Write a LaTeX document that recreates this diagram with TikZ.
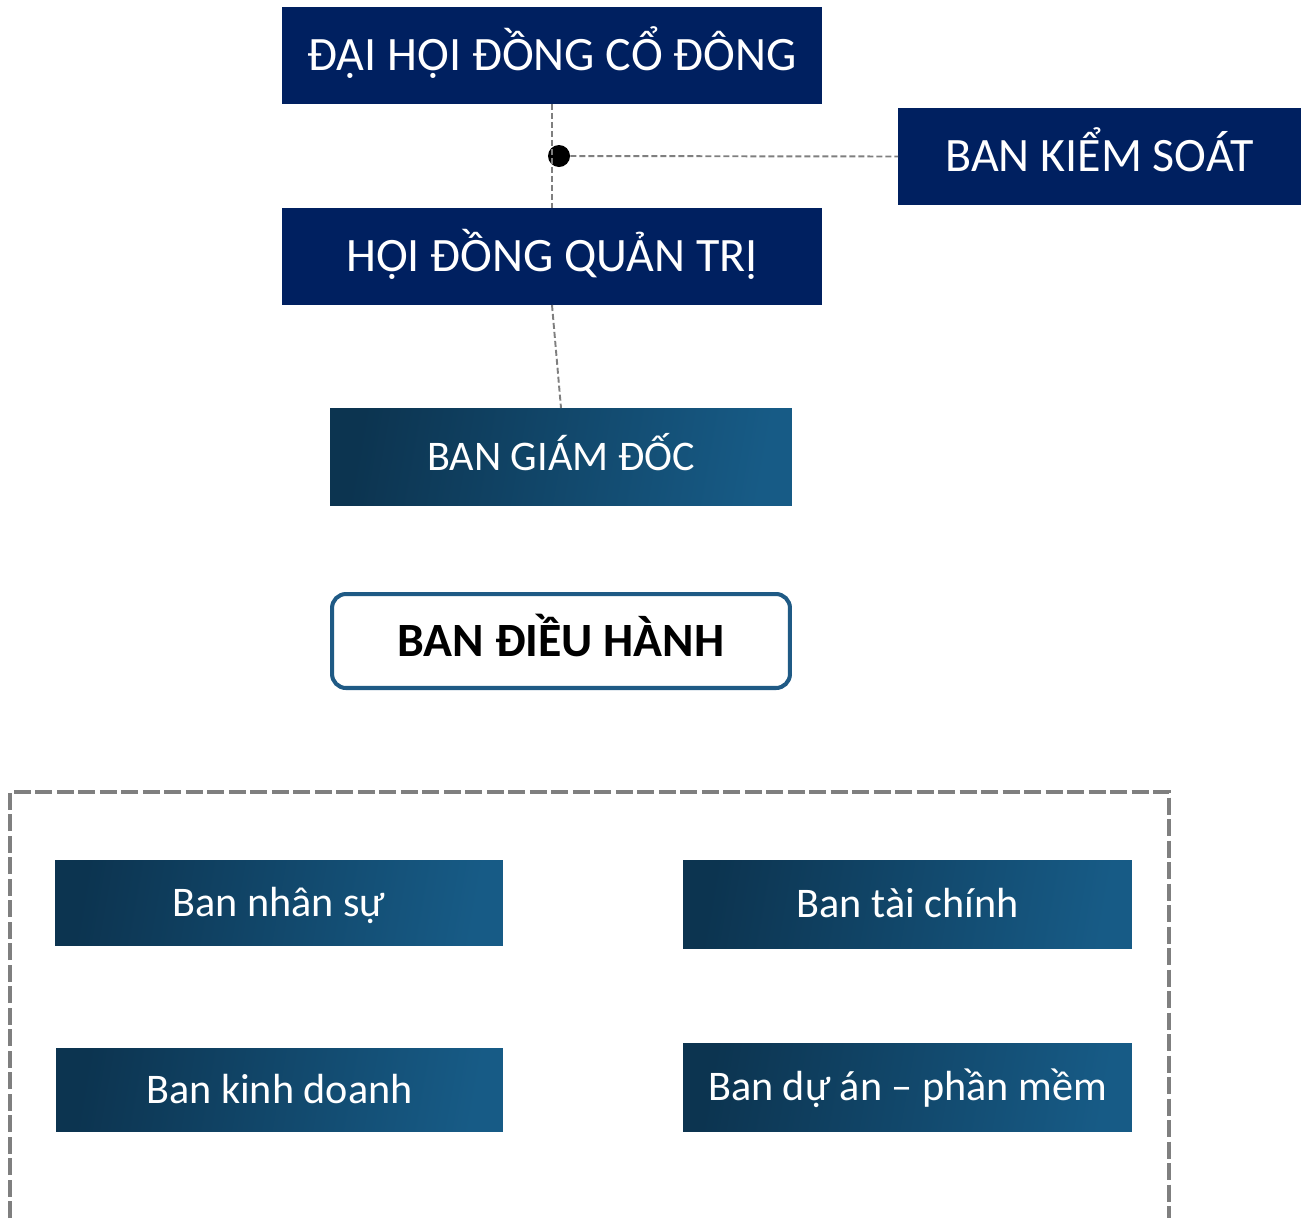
\documentclass[tikz,border=0pt]{standalone}
\usepackage{fontspec}
\setmainfont{Carlito}
\usetikzlibrary{calc}
\definecolor{navy}{HTML}{002060}
\definecolor{deepleft}{HTML}{0C3450}
\definecolor{deepright}{HTML}{175B86}
\definecolor{rimblue}{HTML}{1F5A85}
\definecolor{dashgray}{HTML}{7F7F7F}
\tikzset{
  topbox/.style={fill=navy, text=white, inner sep=0pt, outer sep=0pt,
    minimum height=1.94cm, font=\fontsize{27.3}{32}\selectfont,
    text height=17.6pt, text depth=0pt},
  gradbox/.style={left color=deepleft, right color=deepright, shading angle=80,
    text=white, inner sep=0pt, outer sep=0pt,
    font=\fontsize{24}{28}\selectfont, text height=15.5pt, text depth=0pt},
  link/.style={dashgray, line width=1.1pt, dash pattern=on 0.12cm off 0.06cm},
}
\begin{document}
\begin{tikzpicture}[x=0.02cm, y=-0.02cm]
\useasboundingbox (0,0) rectangle (1307,1218);

\node[topbox, minimum width=10.8cm] (dhdcd) at (552,55.5) {ĐẠI HỘI ĐỒNG CỔ ĐÔNG};
\node[topbox, minimum width=8.06cm] (bks) at (1099.5,156.5) {BAN KIỂM SOÁT};
\node[topbox, minimum width=10.8cm] (hdqt) at (552,256.5) {HỘI ĐỒNG QUẢN TRỊ};
\node[gradbox, minimum width=9.24cm, minimum height=1.94cm] (bgd) at (561,456.5) {BAN GIÁM ĐỐC};

\node[draw=rimblue, line width=2.3pt, rounded corners=0.28cm, fill=white,
  minimum width=9.16cm, minimum height=1.88cm, inner sep=0pt,
  font=\bfseries\fontsize{27.2}{32}\selectfont, text height=17.5pt, text depth=0pt]
  (bdh) at (561,641) {BAN ĐIỀU HÀNH};

\node[circle, fill=black, inner sep=0pt, minimum size=0.44cm] (dot) at (559,156) {};
\draw[link] (dhdcd.south) -- (hdqt.north);
\draw[link] (dot) -- (bks.west);
\draw[link] (hdqt.south) -- (bgd.north);

% cac ban chuyen mon
\draw[dashgray, line width=2.3pt, dash pattern=on 0.34cm off 0.09cm]
  (10,1218) -- (10,792) -- (1169,792) -- (1169,1218);
\node[gradbox, minimum width=8.96cm, minimum height=1.7cm] (bns) at (279,902.5) {Ban nhân sự};
\node[gradbox, minimum width=8.98cm, minimum height=1.76cm] (btc) at (907.5,904) {Ban tài chính};
\node[gradbox, minimum width=8.94cm, minimum height=1.66cm] (bkd) at (279.5,1089.5) {Ban kinh doanh};
\node[gradbox, minimum width=8.98cm, minimum height=1.76cm] (bda) at (907.5,1087) {Ban dự án – phần mềm};
\end{tikzpicture}
\end{document}
